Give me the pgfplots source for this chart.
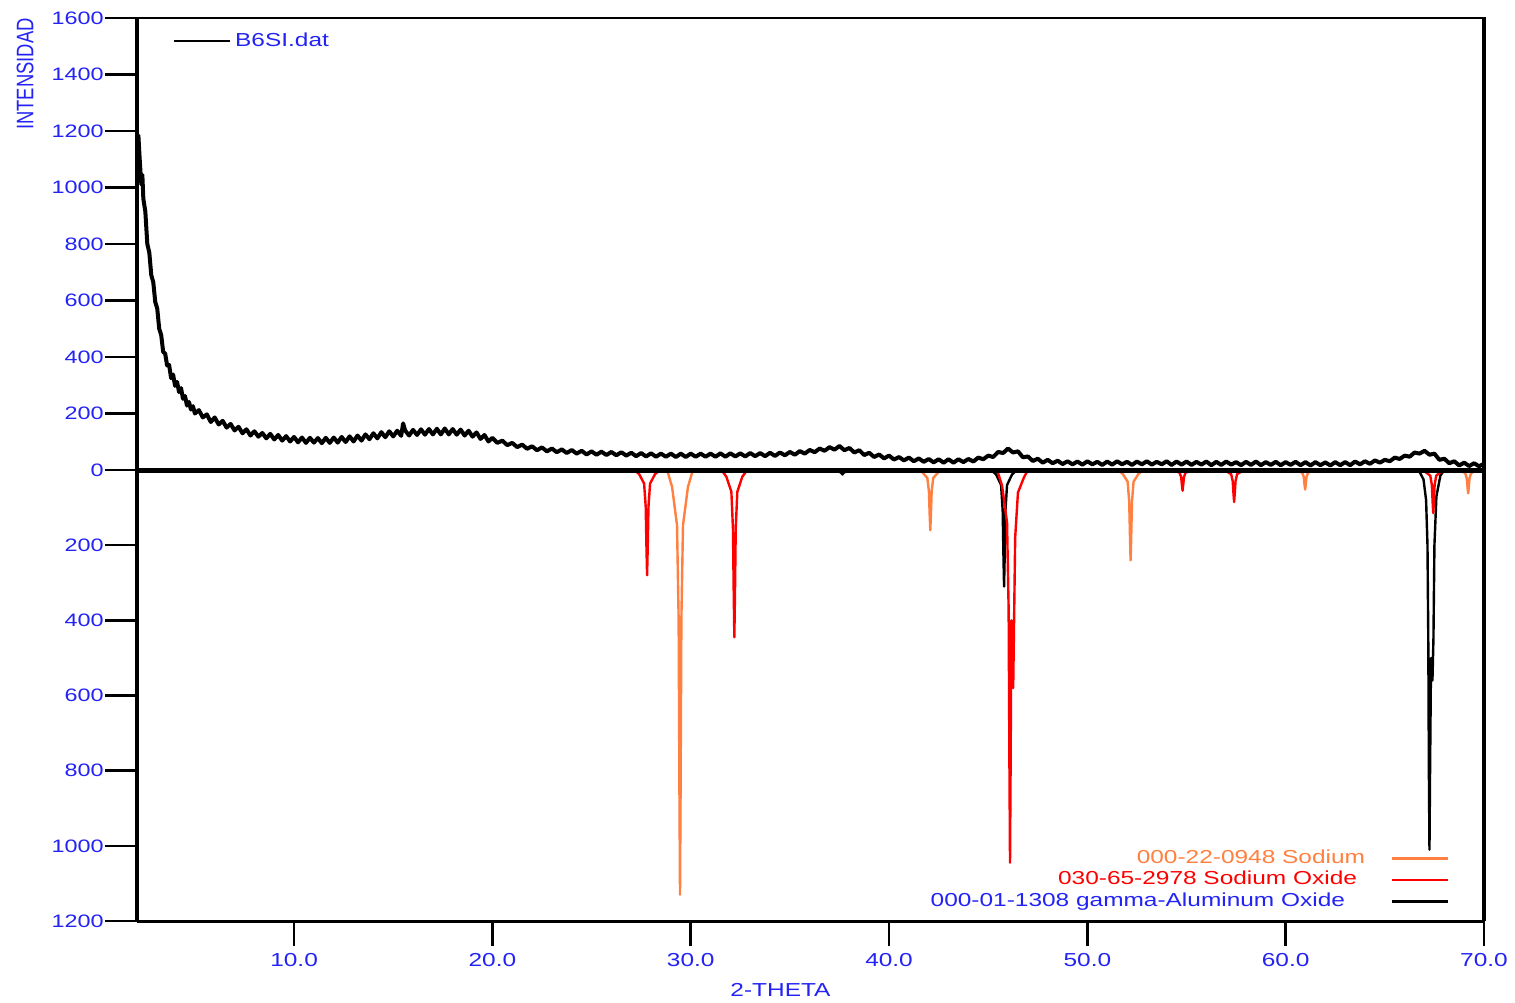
\documentclass[border=0pt]{standalone}
\usepackage{fontspec}
\setmainfont{Liberation Sans}[FakeStretch=1.3]
\newfontfamily\plainfont{Liberation Sans}
\usepackage{pgfplots}
\pgfplotsset{compat=1.18}
\definecolor{tblue}{RGB}{35,35,245}
\definecolor{naor}{RGB}{255,128,64}
\definecolor{nared}{RGB}{255,0,0}
\pgfplotsset{
  xrdbase/.style={
    scale only axis, width=673.5pt,
    xmin=2.08, xmax=70,
    clip=false,
    axis line style={draw=none},
    tick align=outside, tick pos=left,
    major tick length=16pt,
    tick style={black, line width=1.3pt},
    minor tick num=0,
    /pgf/number format/assume math mode=true,
    /pgf/number format/1000 sep={},
    tick label style={font=\fontsize{9}{10}\selectfont, text=tblue},
    xticklabel style={font=\fontsize{9.4}{10}\selectfont},
    yticklabel style={inner xsep=0.5pt},
    label style={font=\fontsize{9.4}{10}\selectfont, text=tblue},
  }
}
\begin{document}
\begin{tikzpicture}
\useasboundingbox[fill=white] (0pt,0pt) rectangle (757.5pt,-501pt);
% ---------------- top: measured pattern ----------------
\begin{axis}[xrdbase, at={(68.5pt,-9pt)}, anchor=north west, height=226pt,
  ymin=0, ymax=1600, ytick={0,200,...,1600}, xtick=\empty,
  ylabel={\scalebox{1}[1.3]{INTENSIDAD}},
  ylabel style={at={(axis description cs:-0.0831,0.876)}, anchor=center, font=\plainfont\fontsize{9.2}{10}\selectfont},
  legend style={at={(axis description cs:0.0267,0.949)}, anchor=west, draw=none, fill=none,
    inner sep=0pt, font=\fontsize{9.4}{10}\selectfont, text=tblue,
    nodes={inner sep=1pt}, /tikz/every odd column/.append style={column sep=1pt}},
  legend image code/.code={\draw[#1] (0pt,0pt) -- (28pt,0pt);},
]
\addlegendimage{black, line width=0.9pt}
\addlegendentry{B6SI.dat}
\addplot[forget plot, black, line width=2pt, line join=round] coordinates {
(2.10,1080) (2.15,1185) (2.20,1120) (2.25,1060) (2.30,1010) (2.35,1045) (2.40,960)
(2.50,915) (2.60,800) (2.70,770) (2.80,690) (2.90,665) (3.00,595) (3.10,572)
(3.20,500) (3.30,478) (3.40,418) (3.50,412) (3.60,370) (3.70,372) (3.80,325)
(3.90,338) (4.00,298) (4.10,312) (4.20,276) (4.30,290) (4.40,252) (4.50,262)
(4.60,228) (4.70,241) (4.80,214) (4.90,226) (5.00,200)
(5.2,212) (5.4,186) (5.6,197) (5.8,170) (6.0,186) (6.2,161) (6.4,174) (6.6,150)
(6.8,163) (7.0,140) (7.2,153) (7.4,130) (7.6,144) (7.8,122) (8.0,137) (8.2,118)
(8.4,131) (8.6,112) (8.8,128) (9.0,108) (9.2,124) (9.4,104) (9.6,120) (9.8,101)
(10.0,117) (10.2,98) (10.4,115) (10.6,96) (10.8,114) (11.0,97) (11.2,113) (11.4,95)
(11.6,114) (11.8,96) (12.0,115) (12.2,97) (12.4,117) (12.6,99) (12.8,119) (13.0,101)
(13.2,122) (13.4,104) (13.6,126) (13.8,109) (14.0,130) (14.2,112) (14.4,134) (14.6,116)
(14.8,137) (15.0,119) (15.2,139) (15.4,121) (15.5,165) (15.6,140) (15.8,122) (16.0,142)
(16.2,124) (16.4,144) (16.6,125) (16.8,145) (17.0,126) (17.2,146) (17.4,126) (17.6,147)
(17.8,126) (18.0,145) (18.2,125) (18.4,143) (18.6,122) (18.8,139) (19.0,118) (19.2,133)
(19.4,110) (19.6,124) (19.8,101) (20.0,114)
(20.25,96) (20.5,104) (20.75,88) (21.0,96) (21.25,81) (21.5,90) (21.75,75) (22.0,84)
(22.25,70) (22.5,80) (22.75,66) (23.0,76) (23.25,63) (23.5,73) (23.75,60) (24.0,71)
(24.25,58) (24.5,68) (24.75,55) (25.0,66) (25.25,54) (25.5,65) (25.75,53) (26.0,64)
(26.25,52) (26.5,63) (26.75,51) (27.0,61) (27.25,49) (27.5,60) (27.75,48) (28.0,59)
(28.25,47) (28.5,58) (28.75,47) (29.0,58) (29.25,46) (29.5,58) (29.75,46) (30.0,58)
(30.25,47) (30.5,58) (30.75,47) (31.0,58) (31.25,47) (31.5,59) (31.75,47) (32.0,59)
(32.25,48) (32.5,59) (32.75,48) (33.0,60) (33.25,49) (33.5,60) (33.75,49) (34.0,61)
(34.25,50) (34.5,62) (34.75,52) (35.0,64) (35.25,54) (35.5,67) (35.75,58) (36.0,71)
(36.25,63) (36.5,76) (36.75,68) (37.0,81) (37.25,72) (37.5,85) (37.75,70) (38.0,78)
(38.25,62) (38.5,70) (38.75,53) (39.0,61) (39.25,46) (39.5,55) (39.75,41) (40.0,51)
(40.25,37) (40.5,46) (40.75,34) (41.0,44) (41.25,31) (41.5,41) (41.75,29) (42.0,39)
(42.25,27) (42.5,38) (42.75,26) (43.0,38) (43.25,26) (43.5,38) (43.75,28) (44.0,39)
(44.25,30) (44.5,44) (44.75,38) (45.0,51) (45.25,46) (45.5,64) (45.75,60) (46.0,76)
(46.25,62) (46.5,66) (46.75,45) (47.0,48) (47.25,32) (47.5,40) (47.75,26) (48.0,36)
(48.25,24) (48.5,33) (48.75,21) (49.0,31) (49.25,20) (49.5,30) (49.75,19) (50.0,31)
(50.25,20) (50.5,29) (50.75,18) (51.0,30) (51.25,19) (51.5,31) (51.75,20) (52.0,29)
(52.25,18) (52.5,30) (52.75,20) (53.0,31) (53.25,19) (53.5,29) (53.75,20) (54.0,31)
(54.25,18) (54.5,30) (54.75,19) (55.0,30) (55.25,18) (55.5,29) (55.75,19) (56.0,30)
(56.25,17) (56.5,29) (56.75,18) (57.0,30) (57.25,19) (57.5,28) (57.75,17) (58.0,29)
(58.25,18) (58.5,30) (58.75,17) (59.0,28) (59.25,18) (59.5,29) (59.75,17) (60.0,28)
(60.25,18) (60.5,29) (60.75,17) (61.0,28) (61.25,16) (61.5,28) (61.75,17) (62.0,27)
(62.25,16) (62.5,28) (62.75,17) (63.0,28) (63.25,17) (63.5,30) (63.75,20) (64.0,31)
(64.25,22) (64.5,34) (64.75,26) (65.0,36) (65.25,31) (65.5,44) (65.75,39) (66.0,51)
(66.25,47) (66.5,62) (66.75,58) (67.0,68) (67.25,54) (67.5,58) (67.75,36) (68.0,40)
(68.25,24) (68.5,31) (68.75,16) (69.0,26) (69.25,14) (69.5,24) (69.75,13) (70.0,22)
};
\draw[line width=1.3pt] (axis description cs:0,1) -- (axis description cs:1,1);
\draw[line width=2.2pt] (axis description cs:0,0) -- (axis description cs:0,1.003);
\draw[line width=2pt] (axis description cs:1,0) -- (axis description cs:1,1.003);
\end{axis}
% ---------------- bottom: reference patterns ----------------
\begin{axis}[xrdbase, at={(68.5pt,-235pt)}, anchor=north west, height=225.5pt,
  y dir=reverse, ymin=0, ymax=1200, ytick={200,400,...,1200}, xtick=\empty,
  legend plot pos=right, legend cell align=right,
  legend style={at={(axis description cs:0.9748,0.019)}, anchor=south east, draw=none, fill=none,
    inner sep=0pt, font=\fontsize{9.4}{10}\selectfont, row sep=0.4pt,
    nodes={inner sep=1pt, text height=6.6pt, text depth=1.8pt},
    /tikz/every odd column/.append style={column sep=11pt}},
  legend image code/.code={\draw[#1] (0pt,0pt) -- (28pt,0pt);},
]
\addlegendimage{naor, line width=1.3pt}
\addlegendentry{\textcolor{naor}{000-22-0948 Sodium}\hspace*{1pt}}
\addlegendimage{nared, line width=1.3pt}
\addlegendentry{\textcolor{nared}{030-65-2978 Sodium Oxide}\hspace*{5pt}}
\addlegendimage{black, line width=1.3pt}
\addlegendentry{\textcolor{tblue}{000-01-1308 gamma-Aluminum Oxide}\hspace*{11pt}}
% gamma-Aluminum Oxide (black)
\addplot[forget plot, black, line width=1.2pt, line join=round] coordinates {
(37.2,0) (37.45,3) (37.6,8) (37.65,12) (37.7,8) (37.85,3) (38.1,0)};
\addplot[forget plot, black, line width=1.2pt, line join=round] coordinates {
(45.15,0) (45.40,12) (45.65,40) (45.73,108) (45.77,232) (45.80,310) (45.83,232) (45.87,108) (45.95,40) (46.20,12) (46.45,0)};
\addplot[forget plot, black, line width=1.2pt, line join=round] coordinates {
(66.7,0) (66.95,25) (67.08,80) (67.15,200) (67.19,450) (67.22,800) (67.25,1010) (67.28,800) (67.33,500) (67.4,560) (67.45,450) (67.5,200) (67.6,70) (67.8,15) (68.0,0)};
% Sodium (orange)
\addplot[forget plot, naor, line width=1.2pt, line join=round] coordinates {
(28.81,0) (29.06,45) (29.31,147) (29.39,396) (29.43,848) (29.46,1130) (29.49,848) (29.53,396) (29.61,147) (29.86,45) (30.11,0)};
\addplot[forget plot, naor, line width=1.2pt, line join=round] coordinates {
(41.43,0) (41.68,6) (41.93,21) (42.01,56) (42.05,120) (42.08,160) (42.11,120) (42.15,56) (42.23,21) (42.48,6) (42.73,0)};
\addplot[forget plot, naor, line width=1.2pt, line join=round] coordinates {
(51.53,0) (51.78,10) (52.03,31) (52.11,84) (52.15,180) (52.18,240) (52.21,180) (52.25,84) (52.33,31) (52.58,10) (52.83,0)};
\addplot[forget plot, naor, line width=1.2pt, line join=round] coordinates {
(60.33,0) (60.58,2) (60.83,7) (60.91,18) (60.95,39) (60.98,52) (61.01,39) (61.05,18) (61.13,7) (61.38,2) (61.63,0)};
\addplot[forget plot, naor, line width=1.2pt, line join=round] coordinates {
(68.55,0) (68.8,2) (69.05,8) (69.13,22) (69.17,47) (69.2,62) (69.23,47) (69.27,22) (69.35,8) (69.6,2) (69.85,0)};
% Sodium Oxide (red)
\addplot[forget plot, nared, line width=1.2pt, line join=round] coordinates {
(27.15,0) (27.4,11) (27.65,36) (27.73,98) (27.77,210) (27.8,280) (27.83,210) (27.87,98) (27.95,36) (28.2,11) (28.45,0)};
\addplot[forget plot, nared, line width=1.2pt, line join=round] coordinates {
(31.55,0) (31.8,18) (32.05,58) (32.13,156) (32.17,334) (32.2,445) (32.23,334) (32.27,156) (32.35,58) (32.6,18) (32.85,0)};
\addplot[forget plot, nared, line width=1.2pt, line join=round] coordinates {
(45.45,0) (45.7,42) (45.95,140) (46.03,370) (46.07,784) (46.1,1045) (46.13,784) (46.17,400) (46.22,420) (46.26,580) (46.3,420) (46.36,180) (46.5,60) (46.8,20) (47.0,0)};
\addplot[forget plot, nared, line width=1.2pt, line join=round] coordinates {
(54.15,0) (54.4,2) (54.65,7) (54.73,19) (54.77,41) (54.8,55) (54.83,41) (54.87,19) (54.95,7) (55.2,2) (55.45,0)};
\addplot[forget plot, nared, line width=1.2pt, line join=round] coordinates {
(56.75,0) (57.0,3) (57.25,11) (57.33,30) (57.37,64) (57.4,85) (57.43,64) (57.47,30) (57.55,11) (57.8,3) (58.05,0)};
\addplot[forget plot, nared, line width=1.2pt, line join=round] coordinates {
(66.79,0) (67.04,5) (67.29,15) (67.37,40) (67.41,86) (67.44,115) (67.47,86) (67.51,40) (67.59,15) (67.84,5) (68.09,0)};
\draw[line width=2.5pt] (axis description cs:-0.0016,1) -- (axis description cs:1.0015,1);
\draw[line width=1.5pt] (axis description cs:0,0) -- (axis description cs:1,0);
\draw[line width=2.2pt] (axis description cs:0,0) -- (axis description cs:0,1);
\draw[line width=2pt] (axis description cs:1,0) -- (axis description cs:1,1);
\end{axis}
% ---------------- x ticks ----------------
\begin{axis}[xrdbase, at={(68.5pt,-235pt)}, anchor=north west, height=225.5pt,
  ymin=0, ymax=1200, ytick=\empty, xtick={10,20,...,70},
  major tick length=12.5pt,
  xticklabel style={/pgf/number format/.cd, fixed, fixed zerofill, precision=1, /tikz/.cd},
  xlabel={2-THETA},
  xlabel style={at={(axis description cs:0.4777,-0.153)}, anchor=center},
]
\addplot[draw=none, forget plot] coordinates {(10,100)};
\end{axis}
\end{tikzpicture}
\end{document}
